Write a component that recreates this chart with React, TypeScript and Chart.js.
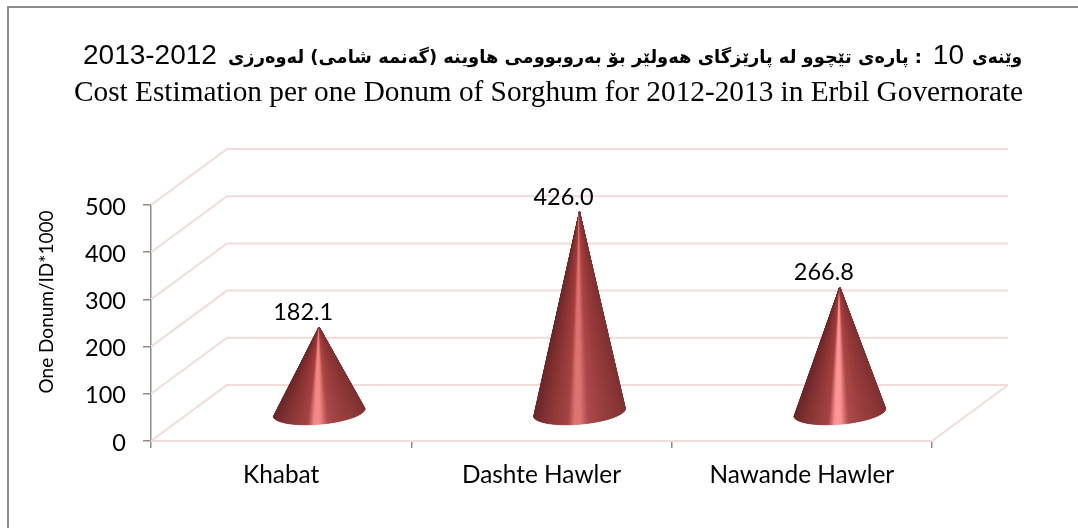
import React, { useEffect, useRef } from "react";
import { Chart, registerables } from "chart.js";

Chart.register(...registerables);

const categories = ["Khabat", "Dashte Hawler", "Nawande Hawler"];
const costValues = [182.1, 426.0, 266.8];
const valueLabels = ["182.1", "426.0", "266.8"];
const yTicks = [0, 100, 200, 300, 400, 500];
const yAxisTitle = "One Donum/ID*1000";
const titleYears = "2013-2012";
const titleKurdishMain = ": پارەی تێچوو لە پارێزگای هەولێر بۆ بەروبوومی هاوینە (گەنمە شامی) لەوەرزی";
const titleNumber = "10";
const titleFigureWord = "وێنەی";
const titleEnglish = "Cost Estimation per one Donum of Sorghum for 2012-2013 in Erbil Governorate";

const DEPTH_X = 76;
const DEPTH_Y = 56;
const GRID = "#f1dcd8";
const AXIS = "#8c8c8c";
const LABEL_FONT = "Lato, 'Open Sans', sans-serif";
const HIGHLIGHTS = ["#f28686", "#dc7070", "#ff9292"];

function hex(c: string) {
  return [1, 3, 5].map((i) => parseInt(c.slice(i, i + 2), 16));
}

function shade(u: number, hi: string) {
  const stops: [number, string][] = [
    [0, "#6c2828"],
    [0.12, "#7f2f2f"],
    [0.3, "#993939"],
    [0.38, "#a23f3f"],
    [0.45, hi],
    [0.51, hi],
    [0.6, "#aa4545"],
    [0.75, "#983a3a"],
    [1, "#823232"],
  ];
  for (let i = 1; i < stops.length; i++) {
    if (u <= stops[i][0]) {
      const [a, ca] = stops[i - 1];
      const [b, cb] = stops[i];
      const k = (u - a) / (b - a || 1);
      const x = hex(ca);
      const y = hex(cb);
      return `rgb(${x.map((v, j) => Math.round(v + (y[j] - v) * k)).join(",")})`;
    }
  }
  return stops[stops.length - 1][1];
}

function drawCone(ctx: CanvasRenderingContext2D, tipX: number, tipY: number, baseY: number, width: number, hi: string) {
  const rx = width / 2;
  const ry = 12;
  const rot = (-5 * Math.PI) / 180;
  const pt = (t: number) => {
    const x = rx * Math.cos(t);
    const y = ry * Math.sin(t);
    return [tipX + x * Math.cos(rot) - y * Math.sin(rot), baseY + x * Math.sin(rot) + y * Math.cos(rot)];
  };
  const N = 160;
  ctx.save();
  ctx.lineWidth = 0.6;
  for (let i = 0; i < N; i++) {
    const t0 = Math.PI - (Math.PI * i) / N;
    const t1 = Math.PI - (Math.PI * (i + 1)) / N;
    const p0 = pt(t0);
    const p1 = pt(t1);
    const u = ((p0[0] + p1[0]) / 2 - (tipX - rx)) / (2 * rx);
    const col = shade(Math.min(1, Math.max(0, u)), hi);
    ctx.fillStyle = col;
    ctx.strokeStyle = col;
    ctx.beginPath();
    ctx.moveTo(tipX, tipY);
    ctx.lineTo(p0[0], p0[1]);
    ctx.lineTo(p1[0], p1[1]);
    ctx.closePath();
    ctx.fill();
    ctx.stroke();
  }
  ctx.restore();
}

const scenePlugin = {
  id: "scene",
  beforeDraw(chart: any) {
    const { ctx } = chart;
    ctx.save();
    ctx.strokeStyle = AXIS;
    ctx.lineWidth = 2;
    ctx.beginPath();
    ctx.moveTo(8, 528);
    ctx.lineTo(8, 7);
    ctx.lineTo(1078, 7);
    ctx.stroke();
    ctx.restore();
  },
  beforeDatasetsDraw(chart: any) {
    const { ctx, chartArea: a, scales } = chart;
    const y = scales.y;
    ctx.save();
    ctx.strokeStyle = GRID;
    ctx.lineWidth = 2;
    y.ticks.forEach((_: any, i: number) => {
      const py = y.getPixelForTick(i);
      ctx.beginPath();
      ctx.moveTo(a.left, py);
      ctx.lineTo(a.left + DEPTH_X, py - DEPTH_Y);
      ctx.lineTo(a.right + DEPTH_X, py - DEPTH_Y);
      ctx.stroke();
    });
    ctx.beginPath();
    ctx.moveTo(a.left, a.bottom);
    ctx.lineTo(a.right, a.bottom);
    ctx.lineTo(a.right + DEPTH_X, a.bottom - DEPTH_Y);
    ctx.stroke();
    ctx.restore();
  },
  beforeDatasetDraw(chart: any, args: any) {
    const { ctx } = chart;
    const meta = chart.getDatasetMeta(args.index);
    meta.data.forEach((bar: any, i: number) => {
      const tipX = bar.x + 38;
      const dy = DEPTH_Y / 2;
      drawCone(ctx, tipX, bar.y - dy, bar.base - dy, bar.width, HIGHLIGHTS[i]);
    });
    return false;
  },
  afterDatasetsDraw(chart: any) {
    const { ctx } = chart;
    const meta = chart.getDatasetMeta(0);
    ctx.save();
    ctx.fillStyle = "#000";
    ctx.font = `23.5px ${LABEL_FONT}`;
    ctx.textAlign = "center";
    ctx.textBaseline = "middle";
    meta.data.forEach((bar: any, i: number) => {
      ctx.fillText(valueLabels[i], bar.x + 38 - 16, bar.y - DEPTH_Y / 2 - 15);
    });
    ctx.restore();
  },
  afterDraw(chart: any) {
    const { ctx } = chart;
    ctx.save();
    ctx.fillStyle = "#000";
    ctx.textBaseline = "alphabetic";

    ctx.direction = "ltr";
    ctx.textAlign = "left";
    ctx.font = "28px 'Liberation Sans', sans-serif";
    ctx.fillText(titleYears, 83, 64, 135);
    ctx.font = "29.3px 'Liberation Serif', serif";
    ctx.fillText(titleEnglish, 74, 101, 950);

    ctx.direction = "rtl";
    ctx.textAlign = "right";
    ctx.font = "bold 18px 'DejaVu Sans', sans-serif";
    ctx.fillText(titleKurdishMain, 922, 63, 694);
    ctx.fillText(titleFigureWord, 1022, 63, 50);
    ctx.direction = "ltr";
    ctx.font = "28px 'Liberation Sans', sans-serif";
    ctx.fillText(titleNumber, 964, 64, 36);

    ctx.translate(47, 302);
    ctx.rotate(-Math.PI / 2);
    ctx.textAlign = "center";
    ctx.textBaseline = "middle";
    ctx.font = `19px ${LABEL_FONT}`;
    ctx.fillText(yAxisTitle, 0, 0);
    ctx.restore();
  },
};

export default function App() {
  const ref = useRef<HTMLCanvasElement>(null);
  useEffect(() => {
    document.body.style.margin = "0";
    document.body.style.background = "#fff";
    const chart = new Chart(ref.current!, {
      type: "bar",
      data: {
        labels: categories,
        datasets: [
          {
            label: "Cost",
            data: costValues,
            backgroundColor: "#953737",
            categoryPercentage: 1,
            barPercentage: 0.353,
          },
        ],
      },
      options: {
        responsive: false,
        animation: false,
        layout: { padding: { top: 205, left: 8, right: 146, bottom: 27 } },
        plugins: { legend: { display: false }, title: { display: false }, tooltip: { enabled: false } },
        scales: {
          x: {
            grid: { drawOnChartArea: false, tickColor: AXIS, tickLength: 7, lineWidth: 1.5 },
            border: { color: GRID, width: 2 },
            ticks: { color: "#000", font: { family: LABEL_FONT, size: 24.4 }, padding: 13, maxRotation: 0 },
            afterFit: (s: any) => {
              s.height = 60;
            },
          },
          y: {
            min: 0,
            max: 500,
            afterBuildTicks: (s: any) => {
              s.ticks = yTicks.map((value) => ({ value }));
            },
            grid: { drawOnChartArea: false, tickColor: AXIS, tickLength: 8, lineWidth: 1.5 },
            border: { color: AXIS, width: 1.5 },
            ticks: { color: "#000", font: { family: LABEL_FONT, size: 23.5 }, padding: 17, labelOffset: 2 },
            afterFit: (s: any) => {
              s.width = 143;
            },
          },
        },
      },
      plugins: [scenePlugin],
    } as any);
    return () => chart.destroy();
  }, []);
  return <canvas ref={ref} width={1078} height={528} style={{ display: "block" }} />;
}
